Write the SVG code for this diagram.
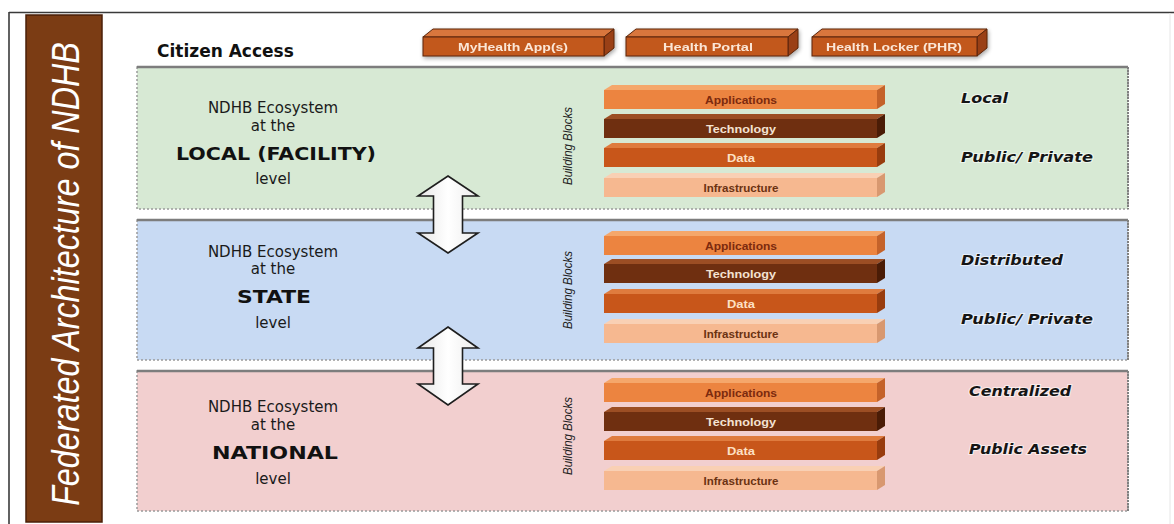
<svg xmlns="http://www.w3.org/2000/svg" width="1174" height="524" viewBox="0 0 1174 524">
<defs>
<style>
.frame{stroke:#3a3a3a;stroke-width:1.6;fill:none}
.title{font-family:"Liberation Sans",Arial,sans-serif;font-style:italic;font-size:34px;fill:#ffffff}
.cit{font-family:"DejaVu Sans",sans-serif;font-weight:bold;font-size:17px;fill:#111}
.panel{stroke:#9a9a9a;stroke-width:1.5;stroke-dasharray:2 2}
.ptop{stroke:#7d7d7d;stroke-width:2.5}
.pside{stroke:#808080;stroke-width:2;stroke-dasharray:2 1}
.green{fill:#d7e9d4}
.blue{fill:#c8daf3}
.pink{fill:#f2cfcf}
.lt{font-family:"DejaVu Sans",sans-serif;font-size:15px;fill:#1a1a1a;text-anchor:middle}
.lb{font-family:"DejaVu Sans",sans-serif;font-weight:bold;font-size:18px;fill:#111;text-anchor:middle}
.bb{font-family:"Liberation Sans",Arial,sans-serif;font-style:italic;font-size:12px;fill:#222;text-anchor:middle}
.rl{font-family:"DejaVu Sans",sans-serif;font-weight:bold;font-style:italic;font-size:14px;fill:#151515;stroke:#ffffff;stroke-width:2;paint-order:stroke;stroke-opacity:0.6}
.bl{font-family:"Liberation Sans",Arial,sans-serif;font-weight:bold;font-size:11px;text-anchor:middle}
.appF{fill:#ec8440}.appT{fill:#f5a76b}.appS{fill:#c4622a}
.tecF{fill:#6f2f10}.tecT{fill:#9c4e24}.tecS{fill:#4a1c06}
.datF{fill:#c8561a}.datT{fill:#df7b3e}.datS{fill:#983c0e}
.infF{fill:#f6b890}.infT{fill:#f9d0b4}.infS{fill:#d89870}
.appL{fill:#7c2a0e}.tecL{fill:#f4e2d2}.datL{fill:#fde0c4}.infL{fill:#6b3212}
.boxF{fill:#c2581e;stroke:#5a2408;stroke-width:1}
.boxT{fill:#d9763c;stroke:#5a2408;stroke-width:1}
.boxS{fill:#9a4012;stroke:#5a2408;stroke-width:1}
.boxL{font-family:"Liberation Sans",Arial,sans-serif;font-weight:bold;font-size:11px;fill:#fbe6d6;text-anchor:middle}
.arrow{fill:url(#ag);stroke:#1e1e1e;stroke-width:1.6;stroke-linejoin:miter}
</style>
<linearGradient id="ag" x1="0" y1="0" x2="1" y2="0">
<stop offset="0" stop-color="#e6e6e6"/>
<stop offset="0.5" stop-color="#ffffff"/>
<stop offset="1" stop-color="#ececec"/>
</linearGradient>
<filter id="sh" x="-10%" y="-30%" width="130%" height="180%">
<feGaussianBlur in="SourceAlpha" stdDeviation="2"/>
<feOffset dx="1" dy="2"/>
<feComponentTransfer><feFuncA type="linear" slope="0.35"/></feComponentTransfer>
<feMerge><feMergeNode/><feMergeNode in="SourceGraphic"/></feMerge>
</filter>
</defs>
<rect width="1174" height="524" fill="#ffffff"/>

<g id="frame">
<line class="frame" x1="9" y1="12.5" x2="1174" y2="12.5"/>
<line class="frame" x1="9" y1="12" x2="9" y2="524" stroke-width="2"/>
<line x1="1170" y1="13" x2="1170" y2="524" stroke="#e6e6e6" stroke-width="1"/>
</g>

<g id="title-bar">
<rect x="26" y="15" width="76" height="507" fill="#7b3c14" stroke="#4a1f08" stroke-width="1.5"/>
<text class="title" transform="translate(79,274) rotate(-90) scale(0.95,1.15)" text-anchor="middle">Federated Architecture of NDHB</text>
</g>

<g id="citizen-access">
<text class="cit" x="157" y="57">Citizen Access</text>
</g>

<g id="access-myhealth" filter="url(#sh)">
<polygon class="boxT" points="423,37 433,29 614,29 604,37"/>
<polygon class="boxS" points="604,37 614,29 614,48 604,56"/>
<rect class="boxF" x="423" y="37" width="181" height="19"/>
<text class="boxL" x="513" y="51" textLength="110" lengthAdjust="spacingAndGlyphs">MyHealth App(s)</text>
</g>
<g id="access-portal" filter="url(#sh)">
<polygon class="boxT" points="626,37 636,29 798,29 788,37"/>
<polygon class="boxS" points="788,37 798,29 798,48 788,56"/>
<rect class="boxF" x="626" y="37" width="162" height="19"/>
<text class="boxL" x="708" y="51" textLength="90" lengthAdjust="spacingAndGlyphs">Health Portal</text>
</g>
<g id="access-locker" filter="url(#sh)">
<polygon class="boxT" points="812,37 822,29 987,29 977,37"/>
<polygon class="boxS" points="977,37 987,29 987,48 977,56"/>
<rect class="boxF" x="812" y="37" width="165" height="19"/>
<text class="boxL" x="894" y="51" textLength="136" lengthAdjust="spacingAndGlyphs">Health Locker (PHR)</text>
</g>

<g id="local-level">
<rect class="panel green" x="137" y="67" width="991" height="142"/>
<line class="ptop" x1="137" y1="67" x2="1128" y2="67"/>
<line class="pside" x1="1128" y1="67" x2="1128" y2="209"/>
<text class="lt" x="273" y="113">NDHB Ecosystem</text>
<text class="lt" x="273" y="131">at the</text>
<text class="lb" x="276" y="160" textLength="200" lengthAdjust="spacingAndGlyphs">LOCAL (FACILITY)</text>
<text class="lt" x="273" y="184">level</text>
<text class="bb" transform="translate(572,146) rotate(-90)" textLength="78" lengthAdjust="spacingAndGlyphs">Building Blocks</text>
<g>
<polygon class="appT" points="604,90 612,85 885,85 877,90"/><polygon class="appS" points="877,90 885,85 885,104 877,109"/><rect class="appF" x="604" y="90" width="273" height="19"/>
<text class="bl appL" x="741" y="104" textLength="72" lengthAdjust="spacingAndGlyphs">Applications</text>
<polygon class="tecT" points="604,119 612,114 885,114 877,119"/><polygon class="tecS" points="877,119 885,114 885,133 877,138"/><rect class="tecF" x="604" y="119" width="273" height="19"/>
<text class="bl tecL" x="741" y="133" textLength="70" lengthAdjust="spacingAndGlyphs">Technology</text>
<polygon class="datT" points="604,148 612,143 885,143 877,148"/><polygon class="datS" points="877,148 885,143 885,162 877,167"/><rect class="datF" x="604" y="148" width="273" height="19"/>
<text class="bl datL" x="741" y="162" textLength="28" lengthAdjust="spacingAndGlyphs">Data</text>
<polygon class="infT" points="604,178 612,173 885,173 877,178"/><polygon class="infS" points="877,178 885,173 885,192 877,197"/><rect class="infF" x="604" y="178" width="273" height="19"/>
<text class="bl infL" x="741" y="192" textLength="75" lengthAdjust="spacingAndGlyphs">Infrastructure</text>
</g>
<text class="rl" x="961" y="103" textLength="47" lengthAdjust="spacingAndGlyphs">Local</text>
<text class="rl" x="961" y="162" textLength="132" lengthAdjust="spacingAndGlyphs">Public/ Private</text>
</g>

<g id="state-level">
<rect class="panel blue" x="137" y="220" width="991" height="140"/>
<line class="ptop" x1="137" y1="220" x2="1128" y2="220"/>
<line class="pside" x1="1128" y1="220" x2="1128" y2="360"/>
<text class="lt" x="273" y="257">NDHB Ecosystem</text>
<text class="lt" x="273" y="274">at the</text>
<text class="lb" x="274" y="303" textLength="74" lengthAdjust="spacingAndGlyphs">STATE</text>
<text class="lt" x="273" y="328">level</text>
<text class="bb" transform="translate(572,290) rotate(-90)" textLength="78" lengthAdjust="spacingAndGlyphs">Building Blocks</text>
<g>
<polygon class="appT" points="604,236 612,231 885,231 877,236"/><polygon class="appS" points="877,236 885,231 885,250 877,255"/><rect class="appF" x="604" y="236" width="273" height="19"/>
<text class="bl appL" x="741" y="250" textLength="72" lengthAdjust="spacingAndGlyphs">Applications</text>
<polygon class="tecT" points="604,264 612,259 885,259 877,264"/><polygon class="tecS" points="877,264 885,259 885,278 877,283"/><rect class="tecF" x="604" y="264" width="273" height="19"/>
<text class="bl tecL" x="741" y="278" textLength="70" lengthAdjust="spacingAndGlyphs">Technology</text>
<polygon class="datT" points="604,294 612,289 885,289 877,294"/><polygon class="datS" points="877,294 885,289 885,308 877,313"/><rect class="datF" x="604" y="294" width="273" height="19"/>
<text class="bl datL" x="741" y="308" textLength="28" lengthAdjust="spacingAndGlyphs">Data</text>
<polygon class="infT" points="604,324 612,319 885,319 877,324"/><polygon class="infS" points="877,324 885,319 885,338 877,343"/><rect class="infF" x="604" y="324" width="273" height="19"/>
<text class="bl infL" x="741" y="338" textLength="75" lengthAdjust="spacingAndGlyphs">Infrastructure</text>
</g>
<text class="rl" x="961" y="265" textLength="102" lengthAdjust="spacingAndGlyphs">Distributed</text>
<text class="rl" x="961" y="324" textLength="132" lengthAdjust="spacingAndGlyphs">Public/ Private</text>
</g>

<g id="national-level">
<rect class="panel pink" x="137" y="371" width="991" height="140"/>
<line class="ptop" x1="137" y1="371" x2="1128" y2="371"/>
<line class="pside" x1="1128" y1="371" x2="1128" y2="511"/>
<text class="lt" x="273" y="412">NDHB Ecosystem</text>
<text class="lt" x="273" y="430">at the</text>
<text class="lb" x="275" y="459" textLength="126" lengthAdjust="spacingAndGlyphs">NATIONAL</text>
<text class="lt" x="273" y="484">level</text>
<text class="bb" transform="translate(572,436) rotate(-90)" textLength="78" lengthAdjust="spacingAndGlyphs">Building Blocks</text>
<g>
<polygon class="appT" points="604,383 612,378 885,378 877,383"/><polygon class="appS" points="877,383 885,378 885,397 877,402"/><rect class="appF" x="604" y="383" width="273" height="19"/>
<text class="bl appL" x="741" y="397" textLength="72" lengthAdjust="spacingAndGlyphs">Applications</text>
<polygon class="tecT" points="604,412 612,407 885,407 877,412"/><polygon class="tecS" points="877,412 885,407 885,426 877,431"/><rect class="tecF" x="604" y="412" width="273" height="19"/>
<text class="bl tecL" x="741" y="426" textLength="70" lengthAdjust="spacingAndGlyphs">Technology</text>
<polygon class="datT" points="604,441 612,436 885,436 877,441"/><polygon class="datS" points="877,441 885,436 885,455 877,460"/><rect class="datF" x="604" y="441" width="273" height="19"/>
<text class="bl datL" x="741" y="455" textLength="28" lengthAdjust="spacingAndGlyphs">Data</text>
<polygon class="infT" points="604,471 612,466 885,466 877,471"/><polygon class="infS" points="877,471 885,466 885,485 877,490"/><rect class="infF" x="604" y="471" width="273" height="19"/>
<text class="bl infL" x="741" y="485" textLength="75" lengthAdjust="spacingAndGlyphs">Infrastructure</text>
</g>
<text class="rl" x="969" y="396" textLength="102" lengthAdjust="spacingAndGlyphs">Centralized</text>
<text class="rl" x="969" y="454" textLength="118" lengthAdjust="spacingAndGlyphs">Public Assets</text>
</g>

<g id="connectors">
<path class="arrow" d="M448,176 L478,196 L462.5,196 L462.5,233 L478,233 L448,253 L418,233 L433.5,233 L433.5,196 L418,196 Z"/>
<path class="arrow" d="M448,327 L478,348 L462.5,348 L462.5,384 L478,384 L448,405 L418,384 L433.5,384 L433.5,348 L418,348 Z"/>
</g>
</svg>
